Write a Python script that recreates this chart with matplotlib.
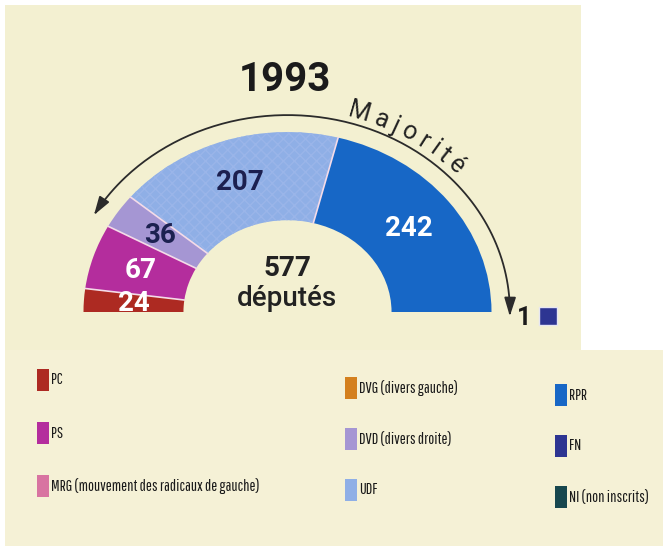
import numpy as np
import matplotlib
matplotlib.use('Agg')
import matplotlib.pyplot as plt
from matplotlib.patches import Wedge, Rectangle, FancyArrowPatch
from matplotlib.path import Path
from matplotlib.font_manager import FontProperties

# Données : Assemblée nationale 1993
parties = ['PC', 'PS', 'DVD', 'UDF', 'RPR']
seats = [24, 67, 36, 207, 242]
party_colors = ['#ad2a22', '#b42d9d', '#a596d3', '#8fafe6', '#1767c6']
label_colors = ['white', 'white', '#1c2050', '#1c2050', 'white']

outside_party = 'FN'
outside_seats = 1
outside_color = '#2d3592'

legend_labels = ['PC', 'PS', 'MRG (mouvement des radicaux de gauche)',
                 'DVG (divers gauche)', 'DVD (divers droite)', 'UDF',
                 'RPR', 'FN', 'NI (non inscrits)']
legend_colors = ['#ad2a22', '#b42d9d', '#d874a1',
                 '#d4801e', '#a596d3', '#8fafe6',
                 '#1767c6', '#2d3592', '#17474e']

year = '1993'
total = sum(seats) + outside_seats

W, H = 663, 546
fig = plt.figure(figsize=(W / 100, H / 100), dpi=100)
fig.patch.set_facecolor('white')

# Fond (deux morceaux de papier scanné)
bg = fig.add_axes([0, 0, 1, 1])
bg.set_xlim(0, W)
bg.set_ylim(H, 0)
bg.axis('off')
bg.add_patch(Rectangle((5, 5), 576, 346, color='#f3f0d1', lw=0))
bg.add_patch(Rectangle((5, 350), 658, 196, color='#f5f1d6', lw=0))

# Axes de l'hémicycle (un peu écrasé verticalement comme sur le scan)
cx, cy, rx, ry = 287.5, 312, 204, 180
x0, x1, y0, y1 = -1.3, 1.3, -0.1, 1.25
ax = fig.add_axes([(cx + x0 * rx) / W, (H - cy + y0 * ry) / H,
                   (x1 - x0) * rx / W, (y1 - y0) * ry / H])
ax.set_xlim(x0, x1)
ax.set_ylim(y0, y1)
ax.axis('off')
ax.patch.set_alpha(0)

r_in = 0.51
arc_total = sum(seats)
start = 180.0
bounds = [start]
for name, s, col, lcol in zip(parties, seats, party_colors, label_colors):
    span = s / arc_total * 180
    t1, t2 = start - span, start
    ax.add_patch(Wedge((0, 0), 1, t1, t2, width=1 - r_in, facecolor=col, lw=0))
    if name == 'UDF':
        ax.add_patch(Wedge((0, 0), 1, t1, t2, width=1 - r_in, fill=False,
                           hatch='xxx', edgecolor='#9ab5e9', lw=0))
    mid = np.radians((t1 + t2) / 2)
    rm = (1 + r_in) / 2
    ax.text(rm * np.cos(mid), rm * np.sin(mid), str(s), ha='center', va='center',
            fontsize=20, fontweight='bold', color=lcol, family='Roboto')
    start = t1
    bounds.append(start)

# Séparateurs clairs entre les groupes
for b in bounds[1:-1]:
    t = np.radians(b)
    ax.plot([r_in * np.cos(t), np.cos(t)], [r_in * np.sin(t), np.sin(t)],
            color='#f4dbe8', lw=1.2)

ax.text(0, 0.24, str(total), ha='center', va='center', fontsize=20,
        fontweight='bold', color='#222222', family='Roboto')
ax.text(0, 0.075, 'députés', ha='center', va='center', fontsize=20,
        fontweight='medium', color='#222222', family='Roboto')

# Flèche de la majorité
th = np.radians(np.linspace(150.5, -1.2, 200))
verts = np.column_stack([1.09 * np.cos(th), 1.094 * np.sin(th)])
arrow = FancyArrowPatch(path=Path(verts),
                        arrowstyle='<|-|>,head_length=0.8,head_width=0.25',
                        mutation_scale=14, color='#2b2b2b', lw=1.3)
ax.add_patch(arrow)

bg.text(285, 80, year, ha='center', va='center', fontsize=29,
        fontweight='bold', color='#1b1b1b', family='Roboto')

# "Majorité" le long de l'arc (espacement régulier sur l'ellipse)
word = 'Majorité'
fp = FontProperties(family='Roboto', size=18, weight='normal')
renderer = fig.canvas.get_renderer()
widths = [renderer.get_text_width_height_descent(word[:i], fp, ismath=False)[0]
          for i in range(len(word) + 1)]
centers = np.array([(widths[i] + widths[i + 1]) / 2 for i in range(len(word))])
A, B = 228, 203
th_a, th_b = 72.0, 44.0
tt = np.radians(np.linspace(th_a, 20, 2000))
ds = np.hypot(A * np.sin(tt), B * np.cos(tt)) * abs(tt[1] - tt[0])
arclen = np.concatenate([[0], np.cumsum(ds[:-1])])
span = np.interp(np.radians(th_b), tt[::-1], arclen[::-1])
track = (span - (centers[-1] - centers[0])) / (len(word) - 1)
for i, (ch, c) in enumerate(zip(word, centers)):
    s = c - centers[0] + i * track
    t = np.interp(s, arclen, tt)
    x = cx + A * np.cos(t)
    y = cy - B * np.sin(t)
    rot = np.degrees(np.arctan2(-B * np.cos(t), A * np.sin(t)))
    bg.text(x, y, ch, rotation=rot, rotation_mode='anchor', ha='center',
            va='baseline', fontproperties=fp, color='#222222')

# Le siège hors de l'arc
bg.text(524, 318, str(outside_seats), ha='center', va='center', fontsize=18,
        fontweight='bold', color='#1b1b1b', family='Roboto')
bg.scatter([548], [316], marker='s', s=150, color=outside_color,
           edgecolor='#e6e6f2', lw=1, zorder=3)

# Légende en trois colonnes
col_x = [37, 345, 555]
col_y = [380, 388, 395]
row_step = [53, 51, 51]
leg_font = ['Pathway Gothic One', 'Roboto Condensed', 'DejaVu Sans']
for i, (lab, col) in enumerate(zip(legend_labels, legend_colors)):
    c, r = divmod(i, 3)
    x = col_x[c]
    y = col_y[c] + r * row_step[c]
    bg.add_patch(Rectangle((x, y - 11), 12, 22, color=col, lw=0))
    bg.text(x + 14, y, lab, ha='left', va='center', fontsize=11.5,
            family=leg_font, color='#1a1a1a')

fig.savefig('out.png', dpi=100)
